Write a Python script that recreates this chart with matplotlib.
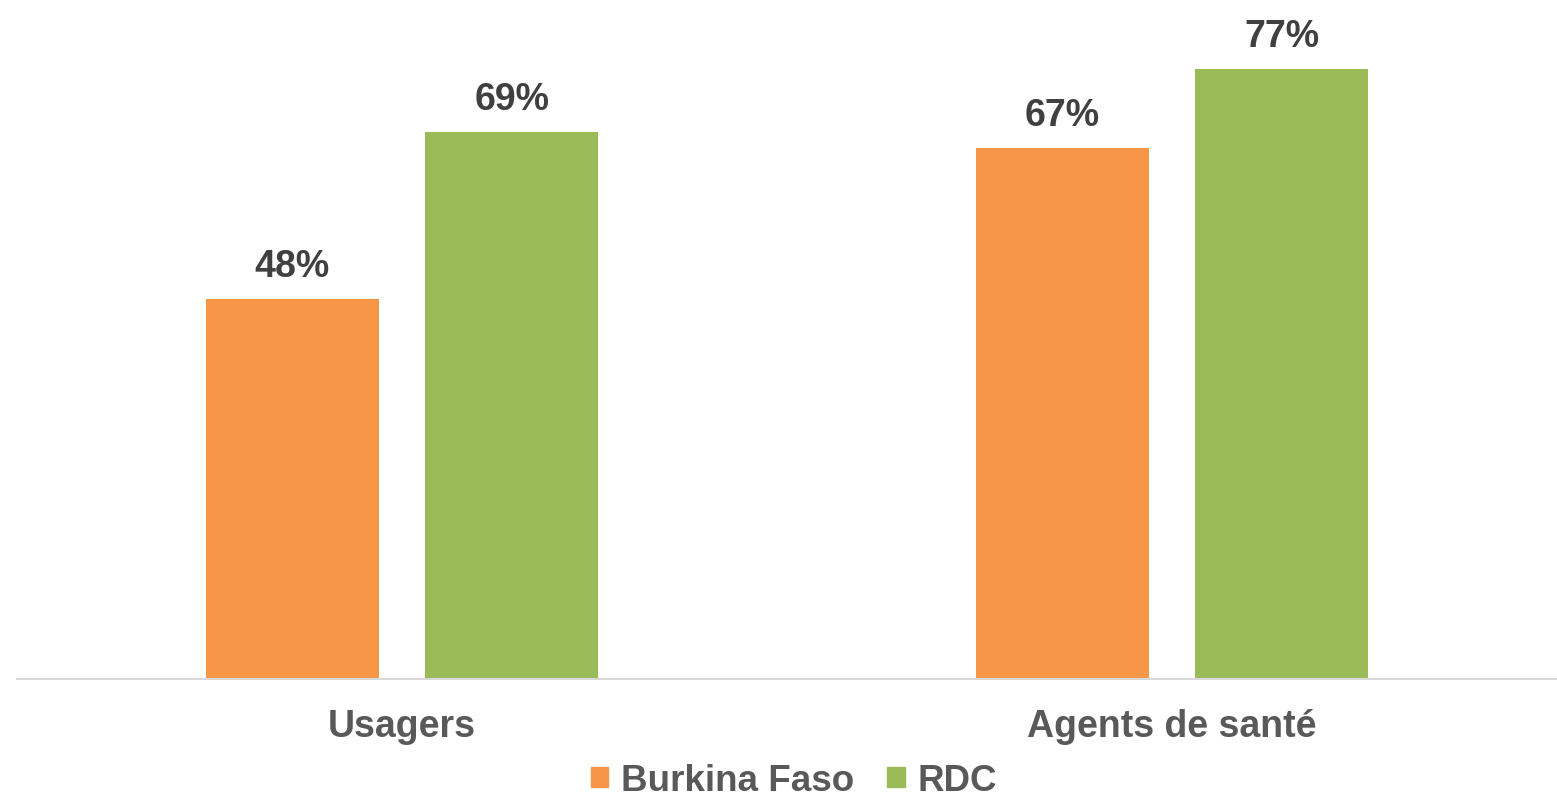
import numpy as np
import matplotlib
matplotlib.use('Agg')
from matplotlib import pyplot as plt
from matplotlib.patches import Patch

categories = ['Usagers', 'Agents de santé']
series_names = ['Burkina Faso', 'RDC']
burkina = [48, 67]
rdc = [69, 77]

orange = '#F79646'
green = '#9BBB59'

plt.rcParams['font.family'] = ['Liberation Sans', 'DejaVu Sans']

fig = plt.figure(figsize=(15.57, 8.03), dpi=100)
ax = fig.add_axes([0.0109, 0.1532, 0.9891, 0.8468])

x = np.arange(len(categories))
w = 0.2247
off = 0.1425

b1 = ax.bar(x - off, burkina, w, color=orange, label=series_names[0])
b2 = ax.bar(x + off, rdc, w, color=green, label=series_names[1])

for bars, vals in [(b1, burkina), (b2, rdc)]:
    for bar, v in zip(bars, vals):
        ax.annotate(f'{v}%', (bar.get_x() + bar.get_width() / 2, v),
                    xytext=(0, 11), textcoords='offset points',
                    ha='center', va='bottom', fontsize=27,
                    fontweight='bold', color='#404040')

ax.set_xlim(-0.5, 1.5)
ax.set_ylim(0, 85.85)
ax.set_xticks(x)
ax.set_xticklabels(categories, fontsize=27, fontweight='bold', color='#595959')
ax.tick_params(axis='x', length=0, pad=21)
ax.set_yticks([])
for s in ['top', 'right', 'left']:
    ax.spines[s].set_visible(False)
ax.spines['bottom'].set_color('#D9D9D9')
ax.spines['bottom'].set_linewidth(1.5)

handles = [Patch(color=orange), Patch(color=green)]
leg = fig.legend(handles, series_names, loc='lower center',
                 bbox_to_anchor=(0.510, -0.032), ncol=2, frameon=False,
                 handlelength=0.48, handleheight=0.48, handletextpad=0.35,
                 columnspacing=0.9, borderpad=0.3,
                 prop={'size': 26.5, 'weight': 'bold'})
for t in leg.get_texts():
    t.set_color('#595959')

fig.savefig('out.png', dpi=100)
